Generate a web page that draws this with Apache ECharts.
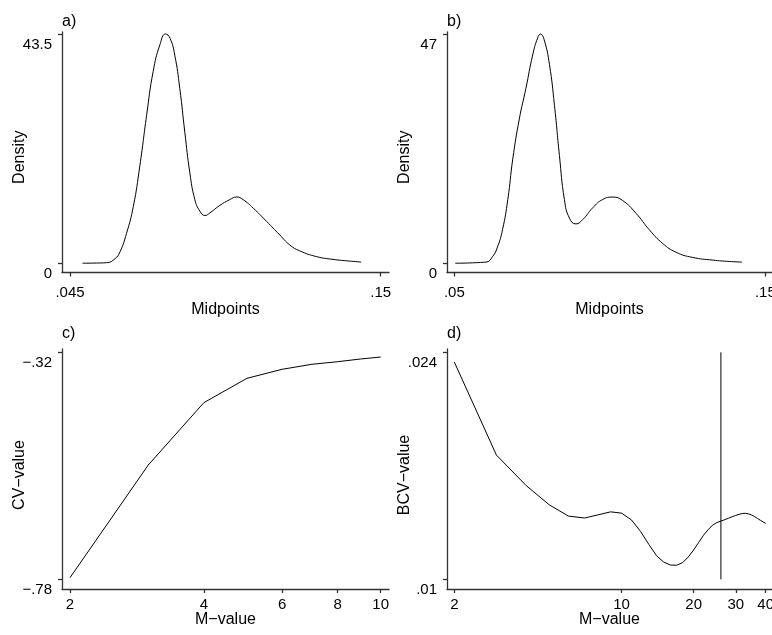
<!DOCTYPE html>
<html>
<head>
<meta charset="utf-8">
<title>Density and cross-validation panels</title>
<script src="https://cdn.jsdelivr.net/npm/echarts@6/dist/echarts.min.js"></script>
<style>
  html, body { margin: 0; padding: 0; background: #fff; }
  #chart { width: 772px; height: 635px; }
</style>
</head>
<body>
<div id="chart"></div>
<script>
// Panel a: density estimate over midpoints
const densityAX = [0.0492, 0.0540, 0.0574, 0.0602, 0.0619, 0.0641, 0.0664, 0.0686, 0.0709, 0.0731,
  0.0754, 0.0773, 0.0788, 0.0804, 0.0821, 0.0838, 0.0855, 0.0872, 0.0889, 0.0906,
  0.0923, 0.0956, 0.0990, 0.1013, 0.1035, 0.1069, 0.1114, 0.1159, 0.1193, 0.1226,
  0.1283, 0.1339, 0.1395, 0.1434];
const densityAY = [0.05, 0.08, 0.15, 0.9, 2.2, 5.7, 10.8, 18.5, 28.1, 36.4,
  41.5, 43.5, 42.7, 39.5, 33.2, 24.9, 17.2, 12.1, 9.9, 9.1,
  9.6, 11.0, 12.1, 12.6, 12.1, 10.5, 8.0, 5.4, 3.5, 2.4,
  1.3, 0.77, 0.45, 0.26];

// Panel b: density estimate over midpoints
const densityBX = [0.0503, 0.0602, 0.0623, 0.0639, 0.0655, 0.0672, 0.0688, 0.0709, 0.0730, 0.0752,
  0.0768, 0.0777, 0.0789, 0.0806, 0.0822, 0.0838, 0.0854, 0.0870, 0.0891, 0.0913,
  0.0945, 0.0977, 0.1009, 0.1041, 0.1084, 0.1127, 0.1170, 0.1213, 0.1266, 0.1331,
  0.1384, 0.1425];
const densityBY = [0.05, 0.28, 1.4, 3.4, 6.9, 13.1, 21.4, 29.6, 35.8, 42.7,
  46.2, 47.0, 45.8, 40.7, 32.4, 22.1, 13.1, 9.3, 8.1, 9.0,
  11.4, 13.1, 13.6, 12.9, 10.3, 6.9, 4.1, 2.3, 1.24, 0.69,
  0.41, 0.28];

// Panel c: CV criterion by M
const cvM = [2, 3, 4, 5, 6, 7, 8, 9, 10];
const cvValue = [-0.7763, -0.5482, -0.4220, -0.3727, -0.3544, -0.3443, -0.3390, -0.3336, -0.3295];

// Panel d: BCV criterion by M, with the selected M marked
const bcvM = [2, 3, 4, 5, 6, 7, 8, 9, 10, 11, 12, 13, 14, 15, 16, 17, 18, 19, 20, 21,
  22, 23, 24, 25, 26, 27, 28, 29, 30, 31, 32, 33, 34, 35, 36, 37, 38, 39, 40];
const bcvValue = [0.02340, 0.01766, 0.01577, 0.01458, 0.01390, 0.01378, 0.01398, 0.01416, 0.01408, 0.01366,
  0.01295, 0.01215, 0.01145, 0.01106, 0.01088, 0.01087, 0.01103, 0.01138, 0.01181, 0.01228,
  0.01272, 0.01306, 0.01334, 0.01350, 0.01359, 0.01368, 0.01377, 0.01386, 0.01394, 0.01401,
  0.01406, 0.01407, 0.01403, 0.01396, 0.01386, 0.01375, 0.01364, 0.01354, 0.01345];
const bcvChosenM = 26;
const bcvMarkSpan = [0.01, 0.024];

// Tick values and their labels
const ticksAX = [0.045, 0.15];   const labelsAX = ['.045', '.15'];
const ticksAY = [0, 43.5];       const labelsAY = ['0', '43.5'];
const ticksBX = [0.05, 0.15];    const labelsBX = ['.05', '.15'];
const ticksBY = [0, 47];         const labelsBY = ['0', '47'];
const ticksCX = [2, 4, 6, 8, 10];   const labelsCX = ['2', '4', '6', '8', '10'];
const ticksCY = [-0.78, -0.32];     const labelsCY = ['\u2212.78', '\u2212.32'];
const ticksDX = [2, 10, 20, 30, 40]; const labelsDX = ['2', '10', '20', '30', '40'];
const ticksDY = [0.01, 0.024];       const labelsDY = ['.01', '.024'];

const panelTags = ['a)', 'b)', 'c)', 'd)'];

const FONT = '"Liberation Sans", Arial, Helvetica, sans-serif';
const INK = '#000';
const AXIS_INK = '#333';

function labelLookup(ticks, labels) {
  return function (v) {
    const i = ticks.findIndex(t => Math.abs(t - v) <= 1e-6 * Math.max(1, Math.abs(t)));
    return i >= 0 ? labels[i] : '';
  };
}

function pairs(xs, ys) {
  return xs.map((x, i) => [x, ys[i]]);
}

function xAxisDef(o) {
  return {
    type: o.type || 'value',
    gridIndex: o.grid,
    min: o.min, max: o.max,
    name: o.name,
    nameLocation: 'middle',
    nameGap: o.nameGap,
    nameMoveOverlap: false,
    nameTextStyle: { fontSize: 16, color: INK, fontFamily: FONT },
    axisLine: { show: true, onZero: false, lineStyle: { color: AXIS_INK, width: 1.3 } },
    axisTick: { show: true, customValues: o.ticks, length: 4, inside: false,
      lineStyle: { color: AXIS_INK, width: 1.3 } },
    axisLabel: { show: true, customValues: o.ticks, formatter: labelLookup(o.ticks, o.labels),
      margin: o.labelMargin, fontSize: 15, color: INK, fontFamily: FONT },
    splitLine: { show: false },
    minorTick: { show: false },
    minorSplitLine: { show: false }
  };
}

function yAxisDef(o) {
  return {
    type: 'value',
    gridIndex: o.grid,
    min: o.min, max: o.max,
    name: o.name,
    nameLocation: 'middle',
    nameGap: 34,
    nameMoveOverlap: false,
    nameTextStyle: { fontSize: 16, color: INK, fontFamily: FONT, padding: [0, o.nameShift, 0, 0] },
    axisLine: { show: true, onZero: false, lineStyle: { color: AXIS_INK, width: 1.3 } },
    axisTick: { show: true, customValues: o.ticks, length: 4, inside: false,
      lineStyle: { color: AXIS_INK, width: 1.3 } },
    axisLabel: { show: true, customValues: o.ticks, formatter: labelLookup(o.ticks, o.labels),
      margin: 10, fontSize: 15, color: INK, fontFamily: FONT,
      verticalAlign: 'top', lineHeight: 15, padding: [3, 0, 0, 0] },
    splitLine: { show: false }
  };
}

function lineSeries(xi, yi, data) {
  return {
    type: 'line',
    xAxisIndex: xi, yAxisIndex: yi,
    data: data,
    showSymbol: false,
    symbol: 'none',
    lineStyle: { color: INK, width: 1 },
    silent: true
  };
}

const gridBox = [
  { left: 62,  top: 32,  width: 327, height: 240.5 },
  { left: 447, top: 32,  width: 325, height: 240.5 },
  { left: 62,  top: 349, width: 327, height: 240 },
  { left: 447, top: 349, width: 325, height: 240 }
];
const tagPos = [[62, 14], [447, 14], [62, 326], [447, 326]];

const option = {
  animation: false,
  backgroundColor: '#fff',
  textStyle: { fontFamily: FONT },
  title: panelTags.map((t, i) => ({
    text: t, left: tagPos[i][0], top: tagPos[i][1], padding: 0,
    textStyle: { fontSize: 16, fontWeight: 'normal', color: INK, fontFamily: FONT }
  })),
  grid: gridBox.map(g => Object.assign({ containLabel: false, outerBoundsMode: 'none' }, g)),
  xAxis: [
    xAxisDef({ grid: 0, min: 0.0423, max: 0.1528, ticks: ticksAX, labels: labelsAX,
      name: 'Midpoints', nameGap: 29, labelMargin: 13 }),
    xAxisDef({ grid: 1, min: 0.04765, max: 0.15215, ticks: ticksBX, labels: labelsBX,
      name: 'Midpoints', nameGap: 29, labelMargin: 13 }),
    xAxisDef({ grid: 2, type: 'log', min: 1.9188, max: 10.439, ticks: ticksCX, labels: labelsCX,
      name: 'M\u2212value', nameGap: 23, labelMargin: 8 }),
    xAxisDef({ grid: 3, type: 'log', min: 1.8643, max: 42.5, ticks: ticksDX, labels: labelsDX,
      name: 'M\u2212value', nameGap: 23, labelMargin: 8 })
  ],
  yAxis: [
    yAxisDef({ grid: 0, min: -1.713, max: 43.88, ticks: ticksAY, labels: labelsAY,
      name: 'Density', nameShift: 10 }),
    yAxisDef({ grid: 1, min: -1.851, max: 47.41, ticks: ticksBY, labels: labelsBY,
      name: 'Density', nameShift: 10 }),
    yAxisDef({ grid: 2, min: -0.7992, max: -0.3133, ticks: ticksCY, labels: labelsCY,
      name: 'CV\u2212value', nameShift: 12 }),
    yAxisDef({ grid: 3, min: 0.009402, max: 0.024204, ticks: ticksDY, labels: labelsDY,
      name: 'BCV\u2212value', nameShift: 12 })
  ],
  series: [
    Object.assign(lineSeries(0, 0, pairs(densityAX, densityAY)), { smooth: 0.5 }),
    Object.assign(lineSeries(1, 1, pairs(densityBX, densityBY)), { smooth: 0.5 }),
    lineSeries(2, 2, pairs(cvM, cvValue)),
    lineSeries(3, 3, pairs(bcvM, bcvValue)),
    lineSeries(3, 3, bcvMarkSpan.map(v => [bcvChosenM, v]))
  ]
};

const chart = echarts.init(document.getElementById('chart'), null, { renderer: 'canvas' });
chart.setOption(option);
</script>
</body>
</html>
